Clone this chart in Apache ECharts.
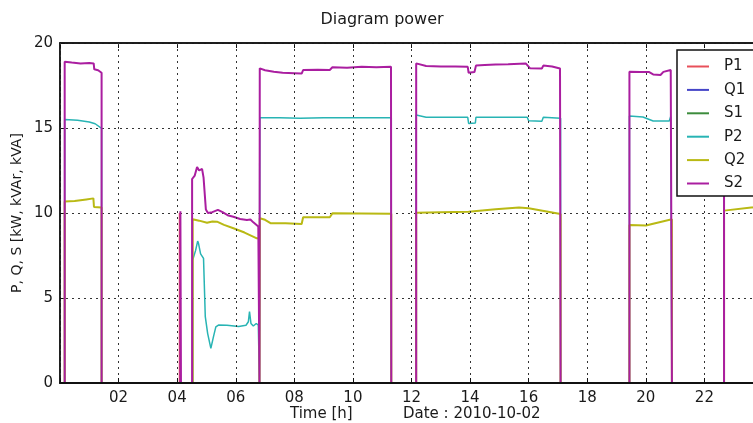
<!DOCTYPE html>
<html>
<head>
<meta charset="utf-8">
<script src="https://cdn.jsdelivr.net/npm/echarts@6/dist/echarts.min.js"></script>
<style>html,body{margin:0;padding:0;background:#fff;overflow:hidden;width:753px;height:423px;}#c{width:766px;height:423px;}</style>
</head>
<body>
<div id="c"></div>
<script>
const seriesNames = ['P1', 'Q1', 'S1', 'P2', 'Q2', 'S2'];
const xTicks = [0, 2, 4, 6, 8, 10, 12, 14, 16, 18, 20, 22, 24];
const yTicks = [0, 5, 10, 15, 20];

const p1Times  = [0, 4.08, 4.08, 4.10, 4.10, 24];
const p1Values = [0, 0, 10.0, 10.0, 0, 0];
const q1Times  = [0, 24];
const q1Values = [0, 0];
const s1Times  = [0, 24];
const s1Values = [0, 0];

const p2Times  = [0, 0.16, 0.16, 0.6, 1.0, 1.2, 1.42, 1.42, 4.53, 4.53, 4.63, 4.7, 4.73, 4.76, 4.8, 4.9, 4.96, 5.04, 5.15, 5.24, 5.32, 5.41, 5.7, 6.1, 6.35, 6.43, 6.47, 6.52, 6.6, 6.7, 6.77, 6.81, 6.81, 6.82, 6.82, 7.5, 8.2, 9.0, 10.0, 11.31, 11.31, 12.16, 12.16, 12.5, 13.92, 13.95, 14.18, 14.2, 15.95, 16.0, 16.45, 16.5, 17.09, 17.09, 19.44, 19.44, 19.9, 20.25, 20.8, 20.85, 20.89, 20.89, 22.67, 22.67, 24];
const p2Values = [0, 0, 15.5, 15.45, 15.35, 15.25, 14.98, 0, 0, 7.24, 7.8, 8.35, 8.2, 8.3, 7.6, 7.33, 3.9, 2.92, 2.04, 2.73, 3.3, 3.41, 3.4, 3.33, 3.4, 3.6, 4.2, 3.5, 3.35, 3.5, 3.41, 3.41, 0, 0, 15.61, 15.6, 15.58, 15.61, 15.6, 15.61, 0, 0, 15.76, 15.63, 15.63, 15.27, 15.3, 15.63, 15.63, 15.43, 15.4, 15.63, 15.57, 0, 0, 15.7, 15.65, 15.41, 15.41, 15.67, 15.67, 0, 0, 15.6, 15.6];

const q2Times  = [0, 0.16, 0.16, 0.5, 0.9, 1.14, 1.16, 1.42, 1.42, 4.53, 4.53, 4.75, 5.02, 5.2, 5.36, 5.6, 5.92, 6.3, 6.72, 6.81, 6.81, 6.82, 6.82, 7.0, 7.2, 7.7, 8.25, 8.3, 9.21, 9.3, 10.3, 11.31, 11.31, 12.16, 12.16, 13.0, 13.95, 14.87, 15.67, 16.0, 17.09, 17.09, 19.44, 19.44, 20.0, 20.89, 20.89, 22.67, 22.67, 23.6, 24];
const q2Values = [0, 0, 10.67, 10.7, 10.8, 10.86, 10.35, 10.33, 0, 0, 9.63, 9.55, 9.43, 9.5, 9.49, 9.3, 9.1, 8.85, 8.51, 8.5, 0, 0, 9.69, 9.6, 9.39, 9.4, 9.35, 9.75, 9.75, 9.98, 9.97, 9.96, 0, 0, 10.02, 10.05, 10.08, 10.22, 10.33, 10.28, 9.94, 0, 0, 9.29, 9.27, 9.63, 0, 0, 10.14, 10.33, 10.35];

const s2Times  = [0, 0.16, 0.16, 0.4, 0.7, 1.0, 1.15, 1.17, 1.3, 1.42, 1.42, 4.11, 4.11, 4.13, 4.13, 4.51, 4.51, 4.6, 4.68, 4.75, 4.85, 4.9, 4.96, 4.98, 5.05, 5.2, 5.39, 5.55, 5.75, 5.92, 6.15, 6.38, 6.5, 6.6, 6.77, 6.81, 6.81, 6.82, 6.82, 7.0, 7.3, 7.6, 8.0, 8.25, 8.3, 8.8, 9.21, 9.3, 9.8, 10.3, 10.8, 11.3, 11.31, 11.31, 12.16, 12.16, 12.5, 13.0, 13.5, 13.92, 13.95, 14.15, 14.2, 14.5, 14.87, 15.3, 15.9, 16.05, 16.45, 16.5, 16.8, 17.07, 17.09, 17.09, 19.44, 19.44, 19.8, 20.1, 20.25, 20.5, 20.6, 20.85, 20.89, 20.89, 22.67, 22.67, 24];
const s2Values = [0, 0, 18.9, 18.85, 18.8, 18.82, 18.8, 18.45, 18.4, 18.25, 0, 0, 10.1, 10.1, 0, 0, 12.0, 12.2, 12.7, 12.5, 12.6, 12.1, 12.0, 10.2, 10.0, 10.05, 10.18, 10.05, 9.85, 9.78, 9.65, 9.59, 9.62, 9.45, 9.2, 9.2, 0, 0, 18.51, 18.4, 18.31, 18.25, 18.22, 18.2, 18.41, 18.42, 18.41, 18.57, 18.55, 18.6, 18.58, 18.61, 18.6, 0, 0, 18.8, 18.65, 18.62, 18.62, 18.6, 18.25, 18.3, 18.67, 18.7, 18.73, 18.75, 18.8, 18.51, 18.5, 18.67, 18.62, 18.5, 18.5, 0, 0, 18.31, 18.3, 18.3, 18.15, 18.12, 18.3, 18.41, 18.45, 0, 0, 18.4, 18.4];

const seriesTimes  = [p1Times, q1Times, s1Times, p2Times, q2Times, s2Times];
const seriesValues = [p1Values, q1Values, s1Values, p2Values, q2Values, s2Values];
const seriesColors = ['#e8505a', '#4646c8', '#3c8c3c', '#28b4b4', '#b9b914', '#aa1ea0'];
const seriesWidths = [1.5, 1.5, 1.5, 1.5, 2, 2];

const FONT = 'DejaVu Sans';
const TXT = '#1a1a1a';

const chart = echarts.init(document.getElementById('c'), null, {renderer: 'canvas'});

const series = seriesNames.map((name, i) => ({
  name: name,
  type: 'line',
  data: seriesTimes[i].map((t, k) => [t, seriesValues[i][k]]),
  symbol: 'none',
  showSymbol: false,
  animation: false,
  lineStyle: {color: seriesColors[i], width: seriesWidths[i]},
  itemStyle: {color: seriesColors[i]},
  z: 2 + i * 0.01
}));

const splitStyle = {show: true, lineStyle: {color: '#333', width: 1, type: [2, 4]}};

chart.setOption({
  animation: false,
  backgroundColor: '#fff',
  grid: {left: 60, top: 43, right: 1, bottom: 40, show: true, borderColor: '#111', borderWidth: 1.5, backgroundColor: 'transparent'},
  xAxis: [{
    type: 'value', min: xTicks[0], max: xTicks[xTicks.length - 1], interval: 2, z: 5,
    axisLine: {show: true, onZero: false, lineStyle: {color: '#111', width: 2}},
    axisTick: {show: true, inside: true, length: 5, lineStyle: {color: '#111'}},
    axisLabel: {
      color: TXT, fontFamily: FONT, fontSize: 15, margin: 8,
      formatter: v => (v === xTicks[0] || v === xTicks[xTicks.length - 1]) ? '' : String(v).padStart(2, '0')
    },
    splitLine: splitStyle
  }, {
    type: 'value', position: 'top', min: xTicks[0], max: xTicks[xTicks.length - 1], interval: 2,
    axisLine: {show: true, onZero: false, lineStyle: {color: '#111', width: 1.5}},
    axisTick: {show: true, inside: true, length: 5, lineStyle: {color: '#111'}},
    axisLabel: {show: false}, splitLine: {show: false}
  }],
  yAxis: {
    type: 'value', min: yTicks[0], max: yTicks[yTicks.length - 1], interval: 5,
    axisLine: {show: true, onZero: false, lineStyle: {color: '#111', width: 1.5}},
    axisTick: {show: true, inside: true, length: 5, lineStyle: {color: '#111'}},
    axisLabel: {color: TXT, fontFamily: FONT, fontSize: 15, margin: 7},
    splitLine: splitStyle
  },
  legend: {
    data: seriesNames.map((n, i) => ({name: n, icon: 'rect', itemStyle: {color: seriesColors[i]}})),
    orient: 'vertical',
    left: 677, top: 50,
    padding: [9, 40, 5, 10],
    itemWidth: 22, itemHeight: 2, itemGap: 8.4,
    backgroundColor: '#fff',
    borderColor: '#111', borderWidth: 1.5, borderRadius: 0,
    textStyle: {color: TXT, fontFamily: FONT, fontSize: 15, lineHeight: 14, padding: [0, 0, 0, 10]},
    z: 10
  },
  graphic: [
    {type: 'text', x: 382, y: 20, style: {text: 'Diagram power', font: '16px "DejaVu Sans"', fill: TXT, textAlign: 'center', textVerticalAlign: 'middle'}},
    {type: 'text', x: 17, y: 213, rotation: Math.PI / 2, style: {text: 'P, Q, S [kW, kVAr, kVA]', font: '14px "DejaVu Sans"', fill: TXT, textAlign: 'center', textVerticalAlign: 'middle'}},
    {type: 'text', x: 290, y: 414, style: {text: 'Time [h]', font: '15px "DejaVu Sans"', fill: TXT, textAlign: 'left', textVerticalAlign: 'middle'}},
    {type: 'text', x: 403, y: 414, style: {text: 'Date : 2010-10-02', font: '15px "DejaVu Sans"', fill: TXT, textAlign: 'left', textVerticalAlign: 'middle'}}
  ],
  series: series
});
</script>
</body>
</html>
